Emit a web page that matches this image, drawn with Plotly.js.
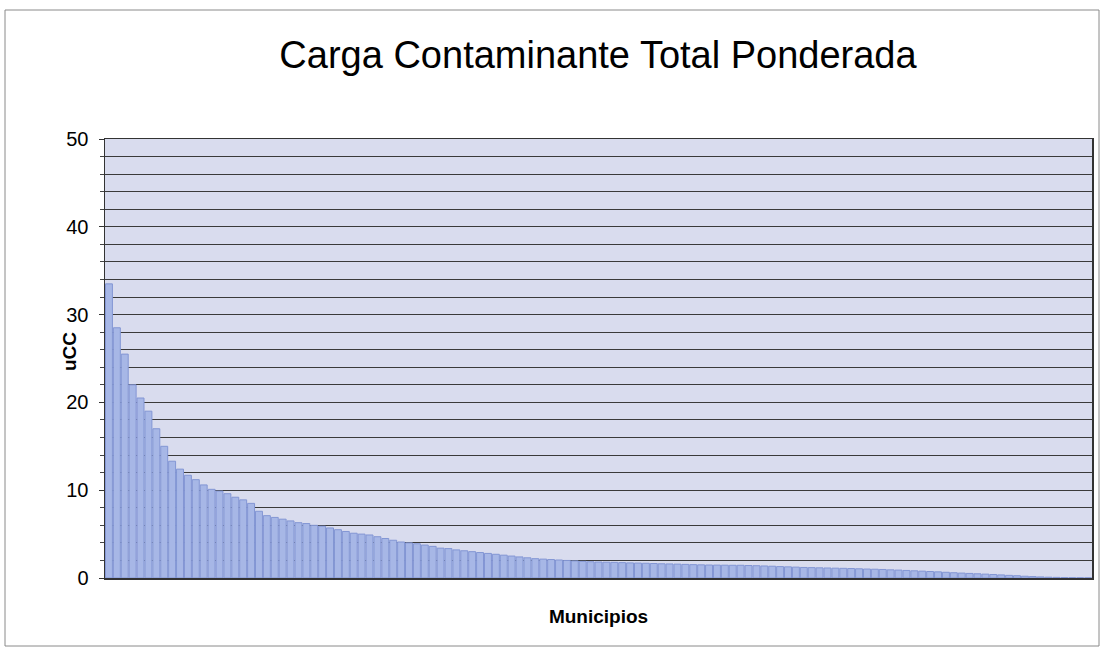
<!DOCTYPE html>
<html>
<head>
<meta charset="utf-8">
<script src="https://cdn.plot.ly/plotly-3.0.1.min.js"></script>
<style>
  html, body { margin: 0; padding: 0; background: #ffffff; }
  #chart { width: 1102px; height: 653px; }
</style>
</head>
<body>
<div id="chart"></div>
<script>
// Municipality index (125 municipalities, sorted by load)
const municipios = Array.from({length: 125}, (_, i) => 'M' + (i + 1));

// Weighted total pollutant load (uCC)
const cargaUCC = [
  33.5, 28.5, 25.5, 22.0, 20.5, 19.0, 17.0, 15.0, 13.3, 12.4,
  11.7, 11.2, 10.6, 10.1, 9.9, 9.6, 9.2, 8.9, 8.5, 7.6,
  7.1, 6.9, 6.7, 6.5, 6.3, 6.2, 6.0, 5.9, 5.7, 5.5,
  5.3, 5.1, 5.0, 4.9, 4.7, 4.5, 4.3, 4.1, 4.0, 3.9,
  3.75, 3.6, 3.4, 3.35, 3.2, 3.1, 3.0, 2.9, 2.8, 2.7,
  2.6, 2.5, 2.4, 2.3, 2.2, 2.15, 2.1, 2.05, 2.0, 1.95,
  1.9, 1.85, 1.82, 1.8, 1.78, 1.75, 1.72, 1.7, 1.68, 1.65,
  1.62, 1.6, 1.58, 1.55, 1.52, 1.5, 1.48, 1.47, 1.46, 1.45,
  1.45, 1.42, 1.4, 1.37, 1.34, 1.3, 1.27, 1.24, 1.2, 1.18,
  1.16, 1.14, 1.12, 1.1, 1.08, 1.05, 1.02, 1.0, 0.97, 0.93,
  0.9, 0.86, 0.82, 0.78, 0.74, 0.7, 0.65, 0.6, 0.56, 0.52,
  0.48, 0.44, 0.4, 0.35, 0.3, 0.26, 0.2, 0.16, 0.12, 0.09,
  0.07, 0.05, 0.04, 0.03, 0.02
];

const yTickVals = [0, 10, 20, 30, 40, 50];
const yTickText = ['0', '10', '20', '30', '40', '50'];

const W = 1102, H = 653;
const M = {l: 105, r: 10, t: 139, b: 75};
const pw = W - M.l - M.r, ph = H - M.t - M.b;
// outer chart frame in pixels
const frame = {x0: 5, x1: 1099, y0: 10, y1: 646};
const FONT = 'Liberation Sans, Arial, sans-serif';

const trace = {
  type: 'bar',
  x: municipios,
  y: cargaUCC,
  marker: {color: '#a7b7e6', line: {color: '#8396d4', width: 1}},
  hoverinfo: 'x+y'
};

const layout = {
  width: W, height: H,
  margin: M,
  paper_bgcolor: '#ffffff',
  plot_bgcolor: '#d9dcee',
  bargap: 0.12,
  showlegend: false,
  font: {family: FONT, color: '#000000'},
  title: {
    text: 'Carga Contaminante Total Ponderada',
    font: {size: 38, family: FONT, color: '#000000'},
    x: 598 / W, xanchor: 'center', xref: 'container',
    y: 1 - 55 / H, yanchor: 'middle', yref: 'container'
  },
  xaxis: {
    type: 'category',
    showticklabels: false,
    ticks: '',
    showgrid: false,
    showline: true, linecolor: '#333333', linewidth: 1.5, mirror: true,
    title: {text: 'Municipios', font: {size: 19, family: FONT, weight: 'bold'}, standoff: 31}
  },
  yaxis: {
    range: [0, 50],
    tickvals: yTickVals,
    ticktext: yTickText,
    ticks: 'outside', ticklen: 5, tickcolor: '#333333', tickwidth: 1,
    ticklabelstandoff: 6,
    tickfont: {size: 20, family: FONT},
    showgrid: true, gridcolor: '#3a3a3a', gridwidth: 1,
    minor: {dtick: 2, showgrid: true, gridcolor: '#3a3a3a', gridwidth: 1, ticks: 'outside', ticklen: 4, tickcolor: '#444444'},
    showline: true, linecolor: '#333333', linewidth: 1.5, mirror: true,
    zeroline: false
  },
  annotations: [{
    text: '<b>uCC</b>', xref: 'paper', yref: 'paper',
    x: (69 - M.l) / pw, y: (H - M.b - 352) / ph,
    xanchor: 'center', yanchor: 'middle', textangle: -90, showarrow: false,
    font: {size: 19, family: FONT, color: '#000000'}
  }],
  shapes: [{
    type: 'rect', xref: 'paper', yref: 'paper',
    x0: (frame.x0 - M.l) / pw, x1: (frame.x1 - M.l) / pw,
    y0: (H - M.b - frame.y1) / ph, y1: (H - M.b - frame.y0) / ph,
    line: {color: '#8a8a8a', width: 1}, fillcolor: 'rgba(0,0,0,0)', layer: 'below'
  }]
};

Plotly.newPlot('chart', [trace], layout, {displayModeBar: false, staticPlot: true});
</script>
</body>
</html>
